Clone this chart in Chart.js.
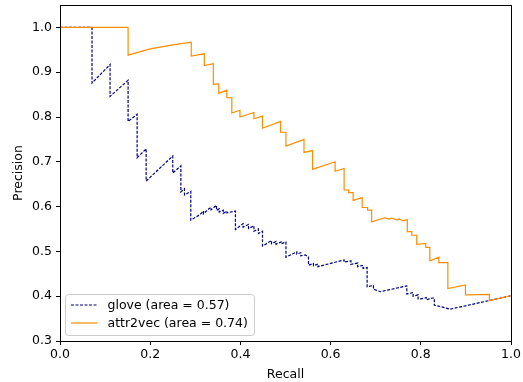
<!DOCTYPE html>
<html>
<head>
<meta charset="utf-8">
<script src="https://cdn.jsdelivr.net/npm/chart.js@4.4.1/dist/chart.umd.min.js"></script>
<style>
  html, body { margin: 0; padding: 0; background: #fff; }
  #wrap { width: 523px; height: 382px; }
</style>
</head>
<body>
<div id="wrap"><canvas id="prChart"></canvas></div>
<script>
// glove curve (recall, precision)
const gloveRecall = [0, 0.071, 0.071, 0.111, 0.111, 0.151, 0.151, 0.171, 0.171, 0.191, 0.191, 0.250, 0.250, 0.268, 0.268,
  0.276, 0.276, 0.290, 0.290, 0.310, 0.318, 0.318, 0.330, 0.335, 0.335, 0.347, 0.347, 0.353, 0.353, 0.362, 0.362, 0.370, 0.370, 0.389, 0.389,
  0.406, 0.406, 0.418, 0.418, 0.430, 0.430, 0.440, 0.440, 0.449, 0.449,
  0.469, 0.469, 0.479, 0.479, 0.490, 0.490, 0.501, 0.501,
  0.525, 0.525, 0.534, 0.534, 0.544, 0.551, 0.551, 0.562, 0.562, 0.572, 0.572, 0.630, 0.630, 0.645, 0.645, 0.660, 0.660, 0.672, 0.672, 0.681, 0.681,
  0.695, 0.695, 0.710, 0.769, 0.769, 0.783, 0.783, 0.794, 0.794, 0.801, 0.812, 0.812, 0.826, 0.830, 0.830, 0.843, 0.865, 1.0];
const glovePrecision = [1.0, 1.0, 0.876, 0.917, 0.846, 0.882, 0.790, 0.806, 0.709, 0.729, 0.657, 0.713, 0.675, 0.691, 0.633,
  0.640, 0.626, 0.634, 0.570, 0.582, 0.590, 0.584, 0.595, 0.598, 0.593, 0.603, 0.592, 0.595, 0.588, 0.592, 0.585, 0.590, 0.586, 0.590, 0.549,
  0.562, 0.554, 0.560, 0.551, 0.557, 0.545, 0.550, 0.540, 0.545, 0.512,
  0.524, 0.517, 0.522, 0.516, 0.521, 0.517, 0.521, 0.487,
  0.499, 0.494, 0.497, 0.490, 0.492, 0.487, 0.469, 0.473, 0.468, 0.472, 0.466, 0.481, 0.476, 0.479, 0.471, 0.474, 0.466, 0.469, 0.462, 0.464, 0.421,
  0.424, 0.416, 0.410, 0.423, 0.405, 0.408, 0.400, 0.403, 0.394, 0.394, 0.397, 0.392, 0.396, 0.396, 0.380, 0.377, 0.371, 0.401];

// attr2vec curve (recall, precision)
const attrRecall = [0, 0.151, 0.151, 0.200, 0.250, 0.291, 0.291, 0.320, 0.320, 0.340, 0.340, 0.352, 0.352, 0.370, 0.370, 0.381, 0.381,
  0.399, 0.399, 0.430, 0.430, 0.449, 0.449, 0.489, 0.489, 0.501, 0.501, 0.541, 0.541, 0.560, 0.560, 0.610, 0.610, 0.630, 0.630,
  0.640, 0.640, 0.650, 0.650, 0.670, 0.670, 0.682, 0.682, 0.691, 0.691, 0.720, 0.730, 0.735, 0.748, 0.752, 0.760, 0.770, 0.770,
  0.780, 0.780, 0.791, 0.791, 0.811, 0.811, 0.820, 0.820, 0.840, 0.840, 0.860, 0.860, 0.899, 0.899, 0.952, 0.952, 1.0];
const attrPrecision = [1.0, 1.0, 0.938, 0.952, 0.961, 0.967, 0.936, 0.941, 0.915, 0.919, 0.873, 0.874, 0.853, 0.860, 0.843, 0.843, 0.809,
  0.815, 0.800, 0.810, 0.796, 0.802, 0.775, 0.790, 0.766, 0.766, 0.735, 0.750, 0.721, 0.725, 0.683, 0.700, 0.679, 0.685, 0.637,
  0.637, 0.631, 0.631, 0.614, 0.620, 0.598, 0.598, 0.592, 0.592, 0.566, 0.575, 0.572, 0.574, 0.570, 0.573, 0.568, 0.571, 0.544,
  0.544, 0.536, 0.536, 0.516, 0.518, 0.509, 0.509, 0.479, 0.487, 0.475, 0.475, 0.417, 0.425, 0.403, 0.404, 0.390, 0.401];

const seriesLabels = ['glove (area = 0.57)', 'attr2vec (area = 0.74)'];
const xTicks = [0.0, 0.2, 0.4, 0.6, 0.8, 1.0];
const yTicks = [0.3, 0.4, 0.5, 0.6, 0.7, 0.8, 0.9, 1.0];

const toPoints = (xs, ys) => xs.map((x, i) => ({ x: x, y: ys[i] }));
const tickFont = { family: 'DejaVu Sans', size: 12.5 };

// axes box + legend drawn inside the plot, matplotlib style
const boxAndLegend = {
  id: 'boxAndLegend',
  afterDatasetsDraw(chart) {
    const { ctx, chartArea: a } = chart;
    ctx.save();
    ctx.strokeStyle = '#000';
    ctx.lineWidth = 1;
    ctx.strokeRect(Math.round(a.left) + 0.5, Math.round(a.top) + 0.5,
      Math.round(a.right - a.left), Math.round(a.bottom - a.top));

    // legend box
    const lx = a.left + 5.5, ly = a.top + 289.5, lw = 189, lh = 41;
    ctx.fillStyle = 'rgba(255,255,255,0.8)';
    ctx.strokeStyle = '#cccccc';
    ctx.beginPath();
    ctx.roundRect(lx, ly, lw, lh, 3);
    ctx.fill();
    ctx.stroke();
    ctx.font = '12.5px "DejaVu Sans"';
    ctx.textBaseline = 'middle';
    chart.data.datasets.forEach((ds, i) => {
      const y = ly + 10.5 + i * 18;
      ctx.strokeStyle = ds.borderColor;
      ctx.lineWidth = ds.borderWidth;
      ctx.setLineDash(ds.borderDash || []);
      ctx.beginPath();
      ctx.moveTo(lx + 5.5, y);
      ctx.lineTo(lx + 32, y);
      ctx.stroke();
      ctx.setLineDash([]);
      ctx.fillStyle = '#000';
      ctx.fillText(ds.label, lx + 42, y + 0.5);
    });
    ctx.restore();
  }
};

const ctx = document.getElementById('prChart').getContext('2d');
const chart = new Chart(ctx, {
  type: 'scatter',
  data: {
    datasets: [{
      label: seriesLabels[0],
      data: toPoints(gloveRecall, glovePrecision),
      showLine: true,
      borderColor: '#000080',
      borderWidth: 1.2,
      borderDash: [3, 1.5],
      pointRadius: 0,
      order: 1,
    }, {
      label: seriesLabels[1],
      data: toPoints(attrRecall, attrPrecision),
      showLine: true,
      borderColor: '#ff8c00',
      borderWidth: 1.2,
      pointRadius: 0,
      order: 0,
    }],
  },
  options: {
    animation: false,
    responsive: true,
    maintainAspectRatio: false,
    devicePixelRatio: 1,
    layout: { padding: { left: 0, right: 12, top: 5, bottom: 0 } },
    plugins: { legend: { display: false }, tooltip: { enabled: false } },
    scales: {
      x: {
        type: 'linear',
        min: 0, max: 1,
        afterBuildTicks: s => { s.ticks = xTicks.map(v => ({ value: v })); },
        afterFit: s => { s.height = 41; s.paddingLeft = 0; s.paddingRight = 0; },
        grid: { drawOnChartArea: false, tickLength: 4, color: '#000' },
        border: { color: '#000' },
        ticks: { color: '#000', font: tickFont, padding: 2, maxRotation: 0,
          callback: v => v.toFixed(1) },
        title: { display: true, text: 'Recall', color: '#000', font: tickFont, padding: 0 },
      },
      y: {
        type: 'linear',
        min: 0.3, max: 1.05,
        afterBuildTicks: s => { s.ticks = yTicks.map(v => ({ value: v })); },
        afterFit: s => { s.width = 60; s.paddingTop = 0; s.paddingBottom = 0; },
        grid: { drawOnChartArea: false, tickLength: 4, color: '#000' },
        border: { color: '#000' },
        ticks: { color: '#000', font: tickFont, padding: 4,
          callback: v => v.toFixed(1) },
        title: { display: true, text: 'Precision', color: '#000', font: tickFont, padding: { top: 11, bottom: 0 } },
      },
    },
  },
  plugins: [boxAndLegend],
});
</script>
</body>
</html>
